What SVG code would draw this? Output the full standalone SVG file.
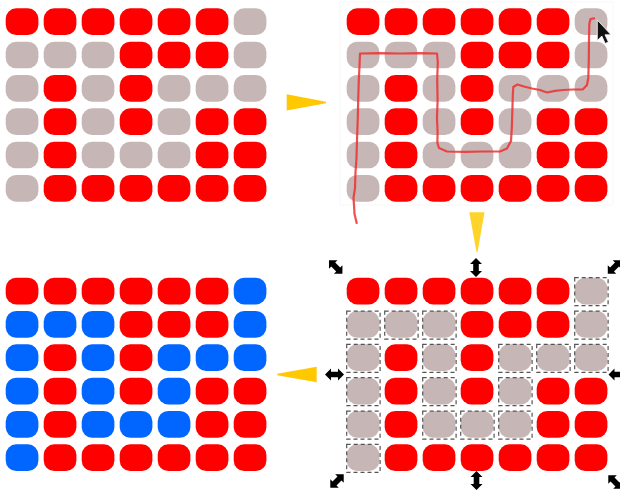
<svg xmlns="http://www.w3.org/2000/svg" xmlns:xlink="http://www.w3.org/1999/xlink" width="620" height="491" viewBox="0 0 620 491">
<style>
.R{fill:#ff0000}
.G{fill:#c6b6b6}
.B{fill:#0066ff}
.panel{fill:#ffffff;stroke:#f7f7f7;stroke-width:1}
.dash{fill:none;stroke:#555555;stroke-width:1.2;stroke-dasharray:4 3}
.arrow{fill:#ffc800}
.arrowd{fill:#ffd42a}
.handle{fill:#000000}
.trace{fill:none;stroke:#ee3030;stroke-opacity:0.85;stroke-width:2.2;stroke-linejoin:round;stroke-linecap:round}
</style>
<defs>
<rect id="c" width="32.7" height="26.7" rx="10.5" ry="10.5"/>
<polygon id="h" points="0,-9.5 6,-3.5 2.8,-3.5 2.8,3.5 6,3.5 0,9.5 -6,3.5 -2.8,3.5 -2.8,-3.5 -6,-3.5"/>
</defs>
<rect width="620" height="491" fill="#ffffff"/>

<g id="grid-original" transform="translate(5.7,8.3)">
<use xlink:href="#c" class="R" x="0" y="0"/><use xlink:href="#c" class="R" x="38" y="0"/><use xlink:href="#c" class="R" x="76" y="0"/><use xlink:href="#c" class="R" x="114" y="0"/><use xlink:href="#c" class="R" x="152" y="0"/><use xlink:href="#c" class="R" x="190" y="0"/><use xlink:href="#c" class="G" x="228" y="0"/>
<use xlink:href="#c" class="G" x="0" y="33.33"/><use xlink:href="#c" class="G" x="38" y="33.33"/><use xlink:href="#c" class="G" x="76" y="33.33"/><use xlink:href="#c" class="R" x="114" y="33.33"/><use xlink:href="#c" class="R" x="152" y="33.33"/><use xlink:href="#c" class="R" x="190" y="33.33"/><use xlink:href="#c" class="G" x="228" y="33.33"/>
<use xlink:href="#c" class="G" x="0" y="66.67"/><use xlink:href="#c" class="R" x="38" y="66.67"/><use xlink:href="#c" class="G" x="76" y="66.67"/><use xlink:href="#c" class="R" x="114" y="66.67"/><use xlink:href="#c" class="G" x="152" y="66.67"/><use xlink:href="#c" class="G" x="190" y="66.67"/><use xlink:href="#c" class="G" x="228" y="66.67"/>
<use xlink:href="#c" class="G" x="0" y="100"/><use xlink:href="#c" class="R" x="38" y="100"/><use xlink:href="#c" class="G" x="76" y="100"/><use xlink:href="#c" class="R" x="114" y="100"/><use xlink:href="#c" class="G" x="152" y="100"/><use xlink:href="#c" class="R" x="190" y="100"/><use xlink:href="#c" class="R" x="228" y="100"/>
<use xlink:href="#c" class="G" x="0" y="133.33"/><use xlink:href="#c" class="R" x="38" y="133.33"/><use xlink:href="#c" class="G" x="76" y="133.33"/><use xlink:href="#c" class="G" x="114" y="133.33"/><use xlink:href="#c" class="G" x="152" y="133.33"/><use xlink:href="#c" class="R" x="190" y="133.33"/><use xlink:href="#c" class="R" x="228" y="133.33"/>
<use xlink:href="#c" class="G" x="0" y="166.67"/><use xlink:href="#c" class="R" x="38" y="166.67"/><use xlink:href="#c" class="R" x="76" y="166.67"/><use xlink:href="#c" class="R" x="114" y="166.67"/><use xlink:href="#c" class="R" x="152" y="166.67"/><use xlink:href="#c" class="R" x="190" y="166.67"/><use xlink:href="#c" class="R" x="228" y="166.67"/>
</g>

<g id="grid-trace">
<rect class="panel" x="340" y="2" width="273" height="203"/>
<g transform="translate(346.7,8.3)">
<use xlink:href="#c" class="R" x="0" y="0"/><use xlink:href="#c" class="R" x="38" y="0"/><use xlink:href="#c" class="R" x="76" y="0"/><use xlink:href="#c" class="R" x="114" y="0"/><use xlink:href="#c" class="R" x="152" y="0"/><use xlink:href="#c" class="R" x="190" y="0"/><use xlink:href="#c" class="G" x="228" y="0"/>
<use xlink:href="#c" class="G" x="0" y="33.33"/><use xlink:href="#c" class="G" x="38" y="33.33"/><use xlink:href="#c" class="G" x="76" y="33.33"/><use xlink:href="#c" class="R" x="114" y="33.33"/><use xlink:href="#c" class="R" x="152" y="33.33"/><use xlink:href="#c" class="R" x="190" y="33.33"/><use xlink:href="#c" class="G" x="228" y="33.33"/>
<use xlink:href="#c" class="G" x="0" y="66.67"/><use xlink:href="#c" class="R" x="38" y="66.67"/><use xlink:href="#c" class="G" x="76" y="66.67"/><use xlink:href="#c" class="R" x="114" y="66.67"/><use xlink:href="#c" class="G" x="152" y="66.67"/><use xlink:href="#c" class="G" x="190" y="66.67"/><use xlink:href="#c" class="G" x="228" y="66.67"/>
<use xlink:href="#c" class="G" x="0" y="100"/><use xlink:href="#c" class="R" x="38" y="100"/><use xlink:href="#c" class="G" x="76" y="100"/><use xlink:href="#c" class="R" x="114" y="100"/><use xlink:href="#c" class="G" x="152" y="100"/><use xlink:href="#c" class="R" x="190" y="100"/><use xlink:href="#c" class="R" x="228" y="100"/>
<use xlink:href="#c" class="G" x="0" y="133.33"/><use xlink:href="#c" class="R" x="38" y="133.33"/><use xlink:href="#c" class="G" x="76" y="133.33"/><use xlink:href="#c" class="G" x="114" y="133.33"/><use xlink:href="#c" class="G" x="152" y="133.33"/><use xlink:href="#c" class="R" x="190" y="133.33"/><use xlink:href="#c" class="R" x="228" y="133.33"/>
<use xlink:href="#c" class="G" x="0" y="166.67"/><use xlink:href="#c" class="R" x="38" y="166.67"/><use xlink:href="#c" class="R" x="76" y="166.67"/><use xlink:href="#c" class="R" x="114" y="166.67"/><use xlink:href="#c" class="R" x="152" y="166.67"/><use xlink:href="#c" class="R" x="190" y="166.67"/><use xlink:href="#c" class="R" x="228" y="166.67"/>
</g>
<path class="trace" d="M356.7,223 L354.5,214 L354,205 L353.5,198 L355,188 L355.5,172 L356.5,158 L357,140 L357.8,118 L358.2,100 L358.8,80 L359.5,66 L360,53.5 L380,53.2 L400,53.5 L420,53.2 L437,53.5 L437.8,62 L437.2,80 L437.6,100 L437,118 L437.6,132 L437.4,143 L439,148 L447,151.5 L465,151.8 L482,151.5 L500,151.5 L507,148.5 L511,141 L511.8,128 L512.4,110 L512.8,95 L513.3,87 L517.5,84.5 L524,86.5 L532,88.5 L540,90 L547,92.5 L555,90.8 L563,90 L573,89.5 L583,89.3 L587,85 L588.3,78 L588.8,60 L589,40 L589.3,24 L590.5,19 L594,18.3"/>
<path d="M597.3,20 L597.3,40.5 L601.8,36 L605.2,43.5 L608.4,42 L605,34.8 L611,34.8 Z" fill="#111111" stroke="#ffffff" stroke-width="0.8" stroke-linejoin="round"/>
</g>

<g id="grid-selection">
<g transform="translate(346.7,277.7)">
<use xlink:href="#c" class="R" x="0" y="0"/><use xlink:href="#c" class="R" x="38" y="0"/><use xlink:href="#c" class="R" x="76" y="0"/><use xlink:href="#c" class="R" x="114" y="0"/><use xlink:href="#c" class="R" x="152" y="0"/><use xlink:href="#c" class="R" x="190" y="0"/><use xlink:href="#c" class="G" x="228" y="0"/>
<use xlink:href="#c" class="G" x="0" y="33.33"/><use xlink:href="#c" class="G" x="38" y="33.33"/><use xlink:href="#c" class="G" x="76" y="33.33"/><use xlink:href="#c" class="R" x="114" y="33.33"/><use xlink:href="#c" class="R" x="152" y="33.33"/><use xlink:href="#c" class="R" x="190" y="33.33"/><use xlink:href="#c" class="G" x="228" y="33.33"/>
<use xlink:href="#c" class="G" x="0" y="66.67"/><use xlink:href="#c" class="R" x="38" y="66.67"/><use xlink:href="#c" class="G" x="76" y="66.67"/><use xlink:href="#c" class="R" x="114" y="66.67"/><use xlink:href="#c" class="G" x="152" y="66.67"/><use xlink:href="#c" class="G" x="190" y="66.67"/><use xlink:href="#c" class="G" x="228" y="66.67"/>
<use xlink:href="#c" class="G" x="0" y="100"/><use xlink:href="#c" class="R" x="38" y="100"/><use xlink:href="#c" class="G" x="76" y="100"/><use xlink:href="#c" class="R" x="114" y="100"/><use xlink:href="#c" class="G" x="152" y="100"/><use xlink:href="#c" class="R" x="190" y="100"/><use xlink:href="#c" class="R" x="228" y="100"/>
<use xlink:href="#c" class="G" x="0" y="133.33"/><use xlink:href="#c" class="R" x="38" y="133.33"/><use xlink:href="#c" class="G" x="76" y="133.33"/><use xlink:href="#c" class="G" x="114" y="133.33"/><use xlink:href="#c" class="G" x="152" y="133.33"/><use xlink:href="#c" class="R" x="190" y="133.33"/><use xlink:href="#c" class="R" x="228" y="133.33"/>
<use xlink:href="#c" class="G" x="0" y="166.67"/><use xlink:href="#c" class="R" x="38" y="166.67"/><use xlink:href="#c" class="R" x="76" y="166.67"/><use xlink:href="#c" class="R" x="114" y="166.67"/><use xlink:href="#c" class="R" x="152" y="166.67"/><use xlink:href="#c" class="R" x="190" y="166.67"/><use xlink:href="#c" class="R" x="228" y="166.67"/>
<rect class="dash" x="228" y="0" width="33.4" height="28"/>
<rect class="dash" x="0" y="33.33" width="33.4" height="28"/><rect class="dash" x="38" y="33.33" width="33.4" height="28"/><rect class="dash" x="76" y="33.33" width="33.4" height="28"/><rect class="dash" x="228" y="33.33" width="33.4" height="28"/>
<rect class="dash" x="0" y="66.67" width="33.4" height="28"/><rect class="dash" x="76" y="66.67" width="33.4" height="28"/><rect class="dash" x="152" y="66.67" width="33.4" height="28"/><rect class="dash" x="190" y="66.67" width="33.4" height="28"/><rect class="dash" x="228" y="66.67" width="33.4" height="28"/>
<rect class="dash" x="0" y="100" width="33.4" height="28"/><rect class="dash" x="76" y="100" width="33.4" height="28"/><rect class="dash" x="152" y="100" width="33.4" height="28"/>
<rect class="dash" x="0" y="133.33" width="33.4" height="28"/><rect class="dash" x="76" y="133.33" width="33.4" height="28"/><rect class="dash" x="114" y="133.33" width="33.4" height="28"/><rect class="dash" x="152" y="133.33" width="33.4" height="28"/>
<rect class="dash" x="0" y="166.67" width="33.4" height="28"/>
</g>
<g class="handle">
<use xlink:href="#h" transform="translate(335.7,267) rotate(-45)"/>
<use xlink:href="#h" transform="translate(476,267.5)"/>
<use xlink:href="#h" transform="translate(614.5,267) rotate(45)"/>
<use xlink:href="#h" transform="translate(334.5,374.5) rotate(90)"/>
<use xlink:href="#h" transform="translate(618,374.5) rotate(90)"/>
<use xlink:href="#h" transform="translate(337,481) rotate(45)"/>
<use xlink:href="#h" transform="translate(476.5,480.5)"/>
<use xlink:href="#h" transform="translate(615,482) rotate(-45)"/>
</g>
</g>

<g id="grid-result" transform="translate(5.7,277.7)">
<use xlink:href="#c" class="R" x="0" y="0"/><use xlink:href="#c" class="R" x="38" y="0"/><use xlink:href="#c" class="R" x="76" y="0"/><use xlink:href="#c" class="R" x="114" y="0"/><use xlink:href="#c" class="R" x="152" y="0"/><use xlink:href="#c" class="R" x="190" y="0"/><use xlink:href="#c" class="B" x="228" y="0"/>
<use xlink:href="#c" class="B" x="0" y="33.33"/><use xlink:href="#c" class="B" x="38" y="33.33"/><use xlink:href="#c" class="B" x="76" y="33.33"/><use xlink:href="#c" class="R" x="114" y="33.33"/><use xlink:href="#c" class="R" x="152" y="33.33"/><use xlink:href="#c" class="R" x="190" y="33.33"/><use xlink:href="#c" class="B" x="228" y="33.33"/>
<use xlink:href="#c" class="B" x="0" y="66.67"/><use xlink:href="#c" class="R" x="38" y="66.67"/><use xlink:href="#c" class="B" x="76" y="66.67"/><use xlink:href="#c" class="R" x="114" y="66.67"/><use xlink:href="#c" class="B" x="152" y="66.67"/><use xlink:href="#c" class="B" x="190" y="66.67"/><use xlink:href="#c" class="B" x="228" y="66.67"/>
<use xlink:href="#c" class="B" x="0" y="100"/><use xlink:href="#c" class="R" x="38" y="100"/><use xlink:href="#c" class="B" x="76" y="100"/><use xlink:href="#c" class="R" x="114" y="100"/><use xlink:href="#c" class="B" x="152" y="100"/><use xlink:href="#c" class="R" x="190" y="100"/><use xlink:href="#c" class="R" x="228" y="100"/>
<use xlink:href="#c" class="B" x="0" y="133.33"/><use xlink:href="#c" class="R" x="38" y="133.33"/><use xlink:href="#c" class="B" x="76" y="133.33"/><use xlink:href="#c" class="B" x="114" y="133.33"/><use xlink:href="#c" class="B" x="152" y="133.33"/><use xlink:href="#c" class="R" x="190" y="133.33"/><use xlink:href="#c" class="R" x="228" y="133.33"/>
<use xlink:href="#c" class="B" x="0" y="166.67"/><use xlink:href="#c" class="R" x="38" y="166.67"/><use xlink:href="#c" class="R" x="76" y="166.67"/><use xlink:href="#c" class="R" x="114" y="166.67"/><use xlink:href="#c" class="R" x="152" y="166.67"/><use xlink:href="#c" class="R" x="190" y="166.67"/><use xlink:href="#c" class="R" x="228" y="166.67"/>
</g>

<g id="connectors">
<polygon class="arrow" points="286.7,94.3 326,101.8 326,103.2 286.7,110.5"/>
<polygon class="arrowd" points="469.3,212.3 484.5,212.3 477.6,251.7 476.4,251.7"/>
<polygon class="arrow" points="316.7,366.7 316.7,382.3 277.3,375.2 277.3,373.8"/>
</g>
</svg>
